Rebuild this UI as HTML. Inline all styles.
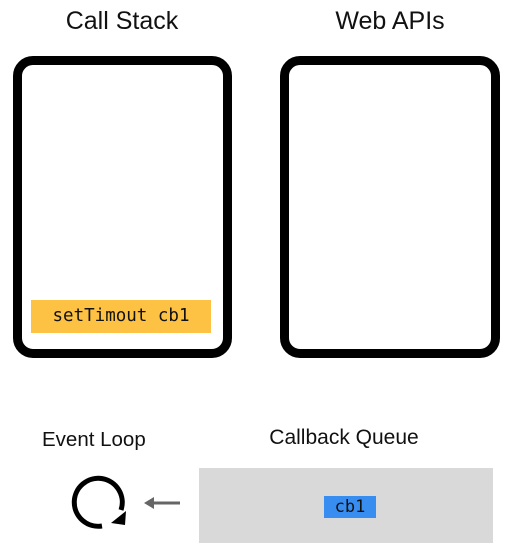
<!DOCTYPE html>
<html><head><style>
body{margin:0;width:511px;height:559px;background:#fff;position:relative;font-family:"Liberation Sans",sans-serif;overflow:hidden}
.t{position:absolute;color:#111}
.box{position:absolute;box-sizing:border-box;border:9px solid #000;border-radius:20px;background:#fff}
</style></head><body>
<div class="t" style="left:22px;top:7px;width:200px;text-align:center;font-size:25px">Call Stack</div>
<div class="t" style="left:290px;top:7px;width:200px;text-align:center;font-size:25px">Web APIs</div>
<div class="box" style="left:13px;top:56px;width:219px;height:302px"></div>
<div class="box" style="left:280px;top:56px;width:220px;height:302px"></div>
<div style="position:absolute;left:31px;top:300px;width:180px;height:33px;background:#fdc143;font-family:'DejaVu Sans Mono','Liberation Mono',monospace;font-size:17.5px;line-height:33px;text-align:center;color:#111">setTimout cb1</div>
<div class="t" style="left:42px;top:428px;font-size:20.5px">Event Loop</div>
<div class="t" style="left:244px;top:426px;width:200px;text-align:center;font-size:21px">Callback Queue</div>
<div style="position:absolute;left:199px;top:468px;width:294px;height:75px;background:#d9d9d9"></div>
<div style="position:absolute;left:324px;top:496px;width:52px;height:22px;background:#378df0;font-family:'DejaVu Sans Mono','Liberation Mono',monospace;font-size:17px;line-height:22px;text-align:center;color:#111">cb1</div>
<svg style="position:absolute;left:0;top:0" width="511" height="559">
<path d="M102 526 A24 24 0 1 1 121 510" fill="none" stroke="#000" stroke-width="5"/>
<polygon points="111,523 126,511 125,525" fill="#000"/>
<line x1="152" y1="503" x2="180" y2="503" stroke="#666" stroke-width="3"/>
<polygon points="144,503 154,497 154,509" fill="#666"/>
</svg>
</body></html>
